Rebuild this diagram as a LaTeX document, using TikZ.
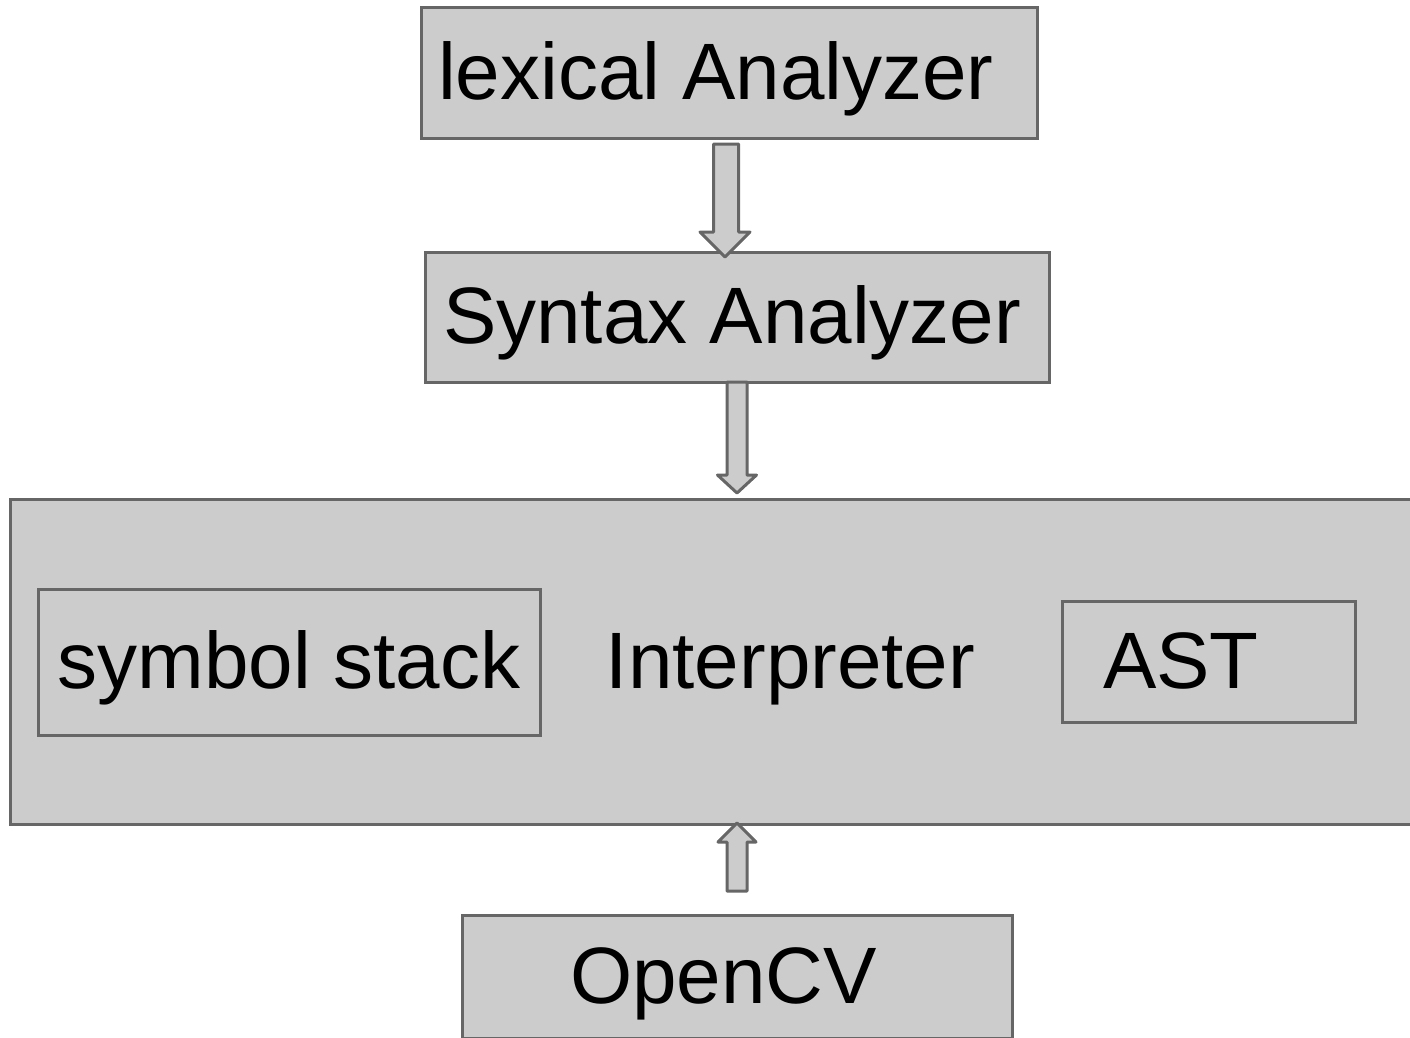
\documentclass[tikz,border=0pt]{standalone}
\usepackage{fontspec}
\setmainfont{Liberation Sans}
\usepackage{tikz}
\usetikzlibrary{positioning,calc}
\definecolor{boxgray}{HTML}{CCCCCC}
\definecolor{linegray}{HTML}{666666}

\tikzset{
  box/.style={draw=linegray, fill=boxgray, line width=3pt, rectangle, outer sep=0pt,
    inner ysep=0pt, text height=58pt, text depth=5pt,
    font=\fontsize{80}{96}\selectfont},
  arrowbody/.style={draw=linegray, fill=boxgray, line width=3pt, line join=round}
}

% hollow block arrow: tail, tip, half shaft, half head, head length
\newcommand{\blockarrow}[5]{%
  \draw[arrowbody] let \p1=(#1), \p2=(#2), \n1={sign(\y2-\y1)*#5} in
    ({\x1-#3},\y1) -- ({\x1-#3},{\y2-\n1}) -- ({\x2-#4},{\y2-\n1}) -- (\x2,\y2)
    -- ({\x2+#4},{\y2-\n1}) -- ({\x1+#3},{\y2-\n1}) -- ({\x1+#3},\y1) -- cycle;}

\begin{document}
\begin{tikzpicture}[x=1pt, y=-1pt]
  \clip (0,0) rectangle (1410,1037);

  % front end
  \node[box, minimum height=131pt, inner xsep=17pt, text width=582pt, align=flush left] (lex) at (729,72.5) {lexical Analyzer};
  \node[box, minimum height=130pt, inner xsep=18pt, text width=588pt, align=flush left,
        below=114pt of lex, xshift=8pt] (syn) {Syntax Analyzer};

  % interpreter and its parts
  \node[box, anchor=west, minimum height=325pt, inner xsep=0pt, text width=1561pt, align=center] (interp) at (10,661.5) {Interpreter};
  \node[box, minimum width=502pt, minimum height=146pt, align=center] (stack) at (289,662) {symbol stack};
  \node[box, minimum height=121pt, inner xsep=41pt, text width=211pt, align=flush left] (ast) at (1208.5,661.5) {AST};

  % library
  \node[box, minimum height=123pt, inner xsep=108pt, text width=334pt, align=flush left] (cv) at (737,976.5) {OpenCV};

  % connectors
  \coordinate (a1tail) at ($(lex.south)+(-3,6)$);
  \coordinate (a1tip)  at ($(syn.north)+(-12,5)$);
  \coordinate (a2tip)  at ($(interp.north -| syn.south)+(0,-6)$);
  \coordinate (a3tail) at ($(cv.north)+(0,-24)$);
  \coordinate (a3tip)  at ($(interp.south -| cv.north)+(0,-1)$);

  \blockarrow{a1tail}{a1tip}{12.5pt}{25pt}{25pt}
  \blockarrow{syn.south}{a2tip}{10pt}{19.5pt}{18pt}
  \blockarrow{a3tail}{a3tip}{10pt}{19pt}{19pt}
\end{tikzpicture}
\end{document}
